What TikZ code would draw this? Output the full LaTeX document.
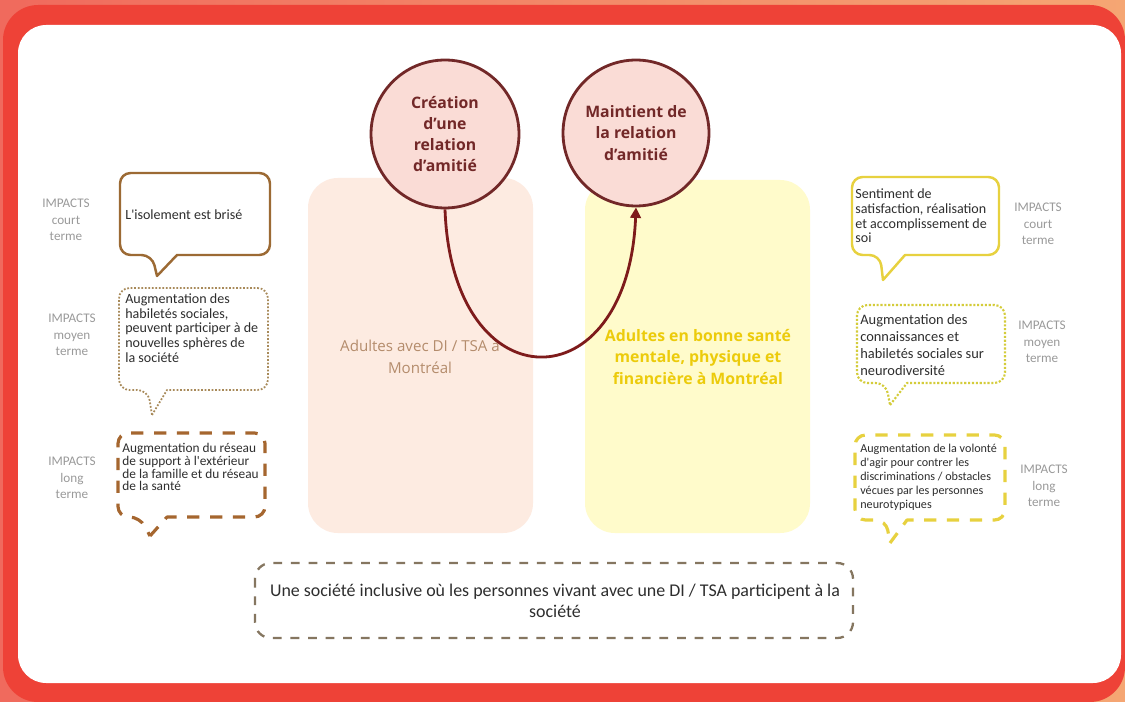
\documentclass[tikz,border=0pt]{standalone}
\usepackage{fontspec}
\setmainfont{Open Sans}
\newfontfamily\corps{Carlito}
\usetikzlibrary{arrows.meta}
\definecolor{fondg}{HTML}{F06A5D}
\definecolor{fondd}{HTML}{F5A673}
\definecolor{cadre}{HTML}{EE4237}
\definecolor{peche}{HTML}{FDEBE1}
\definecolor{jaunep}{HTML}{FFFBCB}
\definecolor{bordeaux}{HTML}{722828}
\definecolor{fleche}{HTML}{7E1B1B}
\definecolor{rose}{HTML}{FADCD6}
\definecolor{brun}{HTML}{9C6A34}
\definecolor{brunpoint}{HTML}{A88A5A}
\definecolor{orangebrun}{HTML}{A5662F}
\definecolor{jaune}{HTML}{E7D13F}
\definecolor{jaunepoint}{HTML}{D4CC3A}
\definecolor{gris}{HTML}{9A9A9A}
\definecolor{encre}{HTML}{2E2E2E}
\definecolor{brunclair}{HTML}{B48C6C}
\definecolor{jaunetexte}{HTML}{ECCB0B}
\definecolor{tirets}{HTML}{857660}
\begin{document}
\begin{tikzpicture}[x=0.02cm,y=-0.02cm]
  \tikzset{
    bulle/.style={line width=1.4pt,fill=white,line join=round},
    texte bulle/.style={font=\corps\fontsize{8}{8.4}\selectfont,text=encre,align=left,inner sep=0pt,anchor=west},
    impact/.style={font=\corps\fontsize{7.5}{9.5}\selectfont,text=gris,align=center},
    cercle/.style={circle,draw=bordeaux,line width=1.6pt,fill=rose,minimum size=2.96cm,inner sep=0pt,
      align=center,font=\bfseries\fontsize{9}{12}\selectfont,text=bordeaux},
    colonne/.style={rounded corners=17pt,draw=none},
    fleche/.style={draw=fleche,line width=1.6pt,-{Triangle[length=6pt,width=6pt]}},
  }
  % style, x1, y1, x2, y2, tail a, tail b, tip
  \def\bulle#1#2#3#4#5#6#7#8{\draw[bulle,#1] (#8) -- (#7,#5) [rounded corners=6pt] -- (#4,#5) -- (#4,#3)
    -- (#2,#3) -- (#2,#5) -- (#6,#5) [sharp corners] -- cycle;}
  \useasboundingbox (0,0) rectangle (1125,702);
  \shade[left color=fondg,right color=fondd] (0,0) rectangle (1125,702);
  \fill[cadre,rounded corners=20pt] (3,5) rectangle (1125,702);
  \fill[white,rounded corners=16pt] (18,25) rectangle (1121,683);

  % colonnes
  \fill[colonne,peche] (308,178) rectangle (533,533);
  \fill[colonne,jaunep] (585,180) rectangle (810,533);
  \node[text=brunclair,align=center,font=\fontsize{8.6}{12.2}\selectfont] (adultes) at (420,357)
    {Adultes avec DI / TSA à\\Montréal};
  \node[text=jaunetexte,align=center,font=\bfseries\fontsize{9}{12.4}\selectfont] (sante) at (698,357)
    {Adultes en bonne santé\\mentale, physique et\\financière à Montréal};

  % relation
  \node[cercle] (creation) at (445,134) {Création\\d'une\\relation\\d'amitié};
  \node[cercle,minimum size=2.92cm] (maintien) at (636,133) {Maintient de\\la relation\\d'amitié};
  \draw[fleche] (creation.south) .. controls (452,405) and (628,405) .. (maintien.south);

  % impacts gauche
  \bulle{draw=brun}{120}{173}{270}{255}{152}{177}{157,276}
  \bulle{draw=brunpoint,line width=1pt,densely dotted}{119}{288}{268}{390}{148}{167}{152,415}
  \bulle{draw=orangebrun,line width=1.8pt,dash pattern=on 7pt off 6pt}{118}{433}{265}{517}{140}{167}{150,536}
  \node[texte bulle] (isolement) at (125,215) {L'isolement est brisé};
  \node[texte bulle] (habiletes) at (125,328) {Augmentation des\\habiletés sociales,\\peuvent participer à de\\nouvelles sphères de\\la société};
  \node[texte bulle,font=\corps\fontsize{7.6}{7.3}\selectfont] (reseau) at (122,467) {Augmentation du réseau\\de support à l'extérieur\\de la famille et du réseau\\de la santé};
  \node[impact] (gcourt) at (66,220) {IMPACTS\\court\\terme};
  \node[impact] (gmoyen) at (72,335) {IMPACTS\\moyen\\terme};
  \node[impact] (glong) at (72,478) {IMPACTS\\long\\terme};

  % impacts droite
  \bulle{draw=jaune}{852}{177}{999}{255}{880}{905}{883,280}
  \bulle{draw=jaunepoint,line width=1.2pt,densely dotted}{857}{305}{1005}{383}{886}{907}{890,405}
  \bulle{draw=jaune,line width=1.8pt,dash pattern=on 7pt off 6pt}{855}{435}{1005}{520}{886}{907}{890,543}
  \node[texte bulle] (satisfaction) at (855,216) {Sentiment de\\satisfaction, réalisation\\et accomplissement de\\soi};
  \node[texte bulle,font=\corps\fontsize{8.2}{9.6}\selectfont] (connaissances) at (860,345) {Augmentation des\\connaissances et\\habiletés sociales sur\\neurodiversité};
  \node[texte bulle,font=\corps\fontsize{6.9}{8}\selectfont] (volonte) at (860,477) {Augmentation de la volonté\\d'agir pour contrer les\\discriminations / obstacles\\vécues par les personnes\\neurotypiques};
  \node[impact] (dcourt) at (1038,224) {IMPACTS\\court\\terme};
  \node[impact] (dmoyen) at (1042,342) {IMPACTS\\moyen\\terme};
  \node[impact] (dlong) at (1044,486) {IMPACTS\\long\\terme};

  % vision
  \draw[draw=tirets,line width=1.3pt,dash pattern=on 5pt off 5pt,rounded corners=9pt] (255,563) rectangle (853,638);
  \node[align=center,text=encre,font=\corps\fontsize{10.2}{12}\selectfont] (vision) at (555,601)
    {Une société inclusive où les personnes vivant avec une DI / TSA participent à la\\société};
\end{tikzpicture}
\end{document}
